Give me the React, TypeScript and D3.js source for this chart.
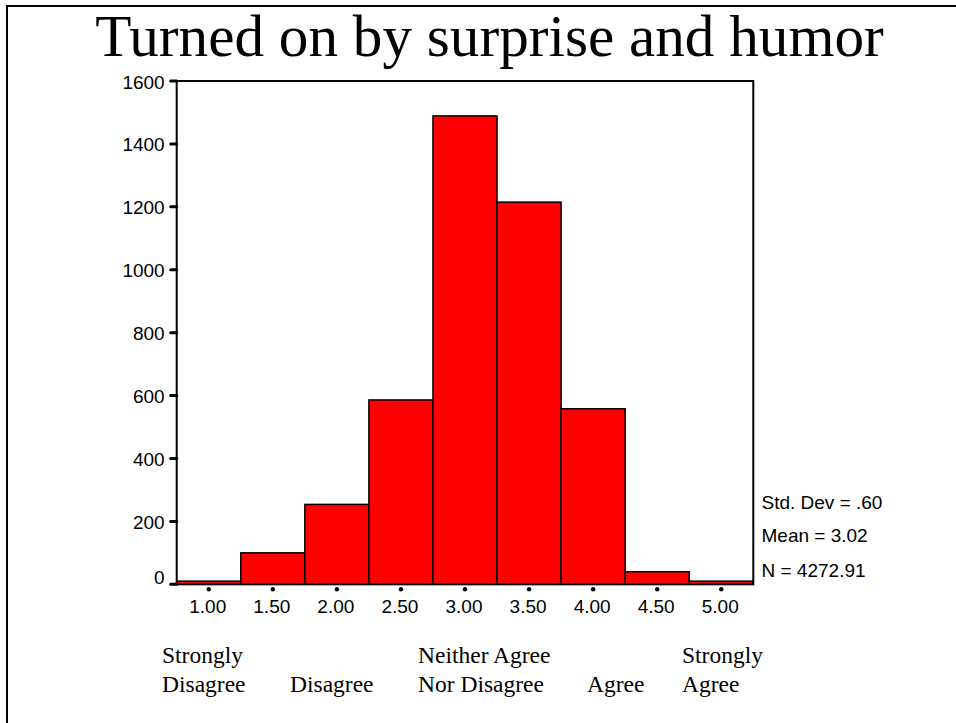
import React, { useEffect, useRef } from "react";
import * as d3 from "d3";

const title = "Turned on by surprise and humor";
const binCenters = [1.0, 1.5, 2.0, 2.5, 3.0, 3.5, 4.0, 4.5, 5.0];
const counts = [10, 100, 254, 586, 1489, 1215, 558, 40, 10];
const yTicks = [0, 200, 400, 600, 800, 1000, 1200, 1400, 1600];
const statLines = ["Std. Dev = .60", "Mean = 3.02", "N = 4272.91"];
const scaleLabels = [
  ["Strongly", "Disagree"],
  ["", "Disagree"],
  ["Neither Agree", "Nor Disagree"],
  ["", "Agree"],
  ["Strongly", "Agree"],
];
const scaleLabelX = [162, 290, 418, 587, 682];

const App = () => {
  const svgRef = useRef(null);
  const svgWidth = 956;
  const svgHeight = 723;

  useEffect(() => {
    const svg = d3
      .select(svgRef.current)
      .attr("width", svgWidth)
      .attr("height", svgHeight);

    svg.selectAll("*").remove();

    const plot = { left: 176.7, right: 753.3, top: 81, bottom: 584.3 };
    const binWidth = 0.5;

    const xScale = d3
      .scaleLinear()
      .domain([0.75, 5.25])
      .range([plot.left, plot.right]);

    const yScale = d3
      .scaleLinear()
      .domain([0, 1600])
      .range([plot.bottom, plot.top]);

    // slide frame (only top / left edges show)
    svg
      .append("rect")
      .attr("x", 7)
      .attr("y", 6)
      .attr("width", 1000)
      .attr("height", 800)
      .attr("fill", "none")
      .attr("stroke", "black")
      .attr("stroke-width", 2);

    svg
      .append("text")
      .attr("x", 489.5)
      .attr("y", 56)
      .attr("text-anchor", "middle")
      .attr("font-family", "'Liberation Serif', 'Times New Roman', serif")
      .attr("font-size", 59.2)
      .text(title);

    // bars
    svg
      .append("g")
      .selectAll("rect")
      .data(binCenters)
      .enter()
      .append("rect")
      .attr("x", (d) => xScale(d - binWidth / 2))
      .attr("width", (d) => xScale(d + binWidth / 2) - xScale(d - binWidth / 2))
      .attr("y", (d, i) => yScale(counts[i]))
      .attr("height", (d, i) => yScale(0) - yScale(counts[i]))
      .attr("fill", "#ff0000")
      .attr("stroke", "black")
      .attr("stroke-width", 1.5);

    // plot frame
    svg
      .append("rect")
      .attr("x", plot.left)
      .attr("y", plot.top)
      .attr("width", plot.right - plot.left)
      .attr("height", plot.bottom - plot.top)
      .attr("fill", "none")
      .attr("stroke", "black")
      .attr("stroke-width", 2);

    const sansFont = "'Liberation Sans', Arial, sans-serif";

    // y axis ticks
    const yG = svg.append("g");
    yG.selectAll("line")
      .data(yTicks)
      .enter()
      .append("line")
      .attr("x1", plot.left - 6)
      .attr("x2", plot.left)
      .attr("y1", (d) => yScale(d))
      .attr("y2", (d) => yScale(d))
      .attr("stroke", "black")
      .attr("stroke-width", 3)
      .attr("stroke-linecap", "round");
    yG.selectAll("text")
      .data(yTicks)
      .enter()
      .append("text")
      .attr("x", plot.left - 12)
      .attr("y", (d) => yScale(d) + (d === 0 ? -0.5 : 7.5))
      .attr("text-anchor", "end")
      .attr("font-family", sansFont)
      .attr("font-size", 19)
      .text((d) => d);

    // x axis ticks (dots)
    const xG = svg.append("g");
    xG.selectAll("circle")
      .data(binCenters)
      .enter()
      .append("circle")
      .attr("cx", (d) => xScale(d))
      .attr("cy", plot.bottom + 5)
      .attr("r", 2.2)
      .attr("fill", "black");
    xG.selectAll("text")
      .data(binCenters)
      .enter()
      .append("text")
      .attr("x", (d) => xScale(d) - 1)
      .attr("y", 613)
      .attr("text-anchor", "middle")
      .attr("font-family", sansFont)
      .attr("font-size", 19)
      .text((d) => d3.format(".2f")(d));

    // stats
    svg
      .append("g")
      .selectAll("text")
      .data(statLines)
      .enter()
      .append("text")
      .attr("x", 761.5)
      .attr("y", (d, i) => [509, 541.5, 576.5][i])
      .attr("font-family", sansFont)
      .attr("font-size", 19)
      .text((d) => d);

    // scale anchor labels
    const labG = svg.append("g");
    scaleLabels.forEach((lines, i) => {
      lines.forEach((line, j) => {
        if (!line) return;
        labG
          .append("text")
          .attr("x", scaleLabelX[i])
          .attr("y", 663.3 + j * 28.4)
          .attr("font-family", "'Liberation Serif', 'Times New Roman', serif")
          .attr("font-size", 23.5)
          .text(line);
      });
    });
  }, []);

  return (
    <svg
      ref={svgRef}
      style={{ position: "absolute", left: 0, top: 0, background: "white" }}
    ></svg>
  );
};

export default App;
